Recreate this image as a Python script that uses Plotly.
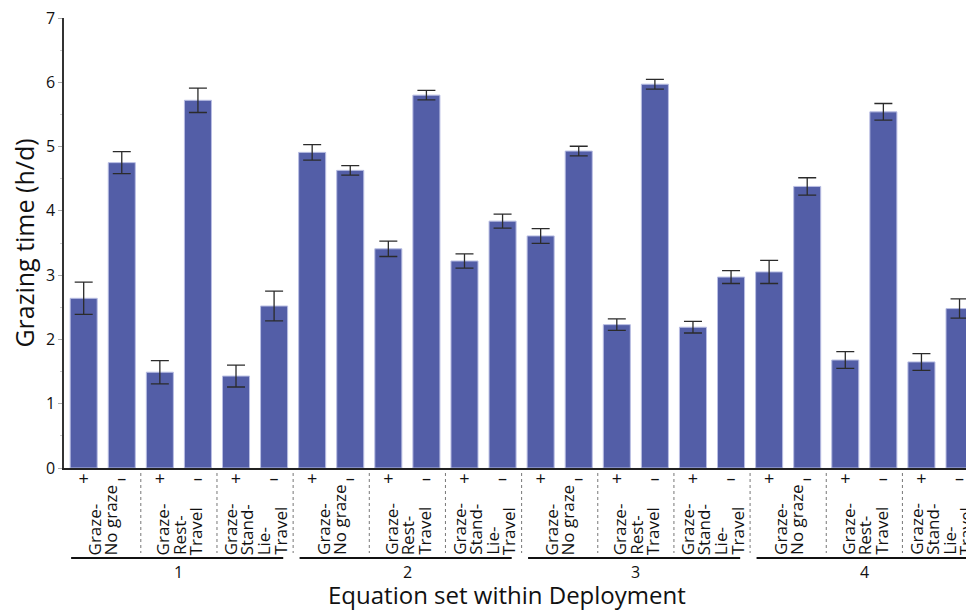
import plotly.graph_objects as go

# Mean grazing time (h/d) and standard error for each equation set, deployments 1-4
deployments = ["1", "2", "3", "4"]
pair_labels = [
    ["Graze-", "No graze"],
    ["Graze-", "Rest-", "Travel"],
    ["Graze-", "Stand-", "Lie-", "Travel"],
]
signs = ["+", "\u2013"]

grazing_time = [
    2.64, 4.75, 1.49, 5.72, 1.43, 2.52,
    4.91, 4.63, 3.41, 5.80, 3.22, 3.84,
    3.61, 4.93, 2.23, 5.97, 2.19, 2.97,
    3.05, 4.38, 1.68, 5.54, 1.65, 2.48,
]
std_error = [
    0.25, 0.17, 0.18, 0.19, 0.17, 0.23,
    0.12, 0.075, 0.12, 0.075, 0.11, 0.11,
    0.115, 0.075, 0.09, 0.075, 0.09, 0.10,
    0.18, 0.135, 0.13, 0.13, 0.13, 0.15,
]

n_bars = len(grazing_time)
positions = list(range(n_bars))
tick_text = [signs[i % 2] for i in positions]

FONT = "Open Sans, Lato, sans-serif"
BAR = "#535ea7"

fig = go.Figure(
    go.Bar(
        x=positions,
        y=grazing_time,
        width=0.71,
        marker=dict(color=BAR, line=dict(color="#b9bee3", width=1)),
        error_y=dict(type="data", array=std_error, visible=True,
                     color="#2b2b2b", thickness=1.3, width=9),
        showlegend=False,
    )
)

# plot area spans 64..966 px horizontally and 18..468 px vertically
PLOT_TOP, PLOT_BOTTOM = 18, 468
PLOT_H = PLOT_BOTTOM - PLOT_TOP


def py(px):
    """convert a pixel row into paper y"""
    return (PLOT_BOTTOM - px) / PLOT_H


shapes = []
annotations = []

# dotted separators between the +/- pairs
for b in range(1, n_bars // 2):
    xb = 2 * b - 0.5
    shapes.append(dict(type="line", xref="x", yref="paper", x0=xb, x1=xb,
                       y0=py(473), y1=py(553),
                       line=dict(color="#777", width=1, dash="dot")))

pairs_per_dep = len(pair_labels)
bars_per_dep = 2 * pairs_per_dep
for d, name in enumerate(deployments):
    start = d * bars_per_dep
    end = start + bars_per_dep - 1
    shapes.append(dict(type="line", xref="x", yref="paper",
                       x0=start - 0.33, x1=end + 0.24, y0=py(558), y1=py(558),
                       line=dict(color="#111", width=2)))
    annotations.append(dict(x=(start + end) / 2, y=py(572), xref="x", yref="paper",
                            text=name, showarrow=False,
                            xanchor="center", yanchor="middle",
                            font=dict(family=FONT, size=16, color="#111")))
    for p, lines in enumerate(pair_labels):
        centre = start + 2 * p + 0.5
        n = len(lines)
        for k, line in enumerate(lines):
            annotations.append(dict(
                x=centre, y=py(557), xref="x", yref="paper",
                xshift=(k - (n - 1) / 2) * 16.5,
                text=line, textangle=-90, showarrow=False,
                xanchor="center", yanchor="bottom",
                font=dict(family=FONT, size=17, color="#111")))

annotations.append(dict(x=(507 - 64) / 902, y=py(594), xref="paper", yref="paper",
                        text="Equation set within Deployment", showarrow=False,
                        xanchor="center", yanchor="middle",
                        font=dict(family=FONT, size=24, color="#111")))

fig.update_layout(
    width=966, height=611,
    margin=dict(l=64, r=0, t=PLOT_TOP, b=611 - PLOT_BOTTOM),
    paper_bgcolor="white", plot_bgcolor="white",
    font=dict(family=FONT, color="#111"),
    bargap=0.29,
    shapes=shapes,
    annotations=annotations,
    xaxis=dict(
        range=[-0.517, 23.17],
        tickvals=positions, ticktext=tick_text,
        tickfont=dict(size=18, color="#111"),
        ticklabelstandoff=-7,
        ticks="", showgrid=False, zeroline=False,
        showline=True, linecolor="#222", linewidth=2,
    ),
    yaxis=dict(
        range=[0, 7], dtick=1,
        tickfont=dict(size=16, color="#111"),
        ticks="outside", ticklen=4, tickcolor="#aaa",
        minor=dict(dtick=0.5, ticks="outside", ticklen=2, tickcolor="#ccc"),
        showgrid=False, zeroline=False,
        showline=True, linecolor="#333", linewidth=1.5,
        title=dict(text="Grazing time (h/d)", font=dict(size=25, color="#111"),
                   standoff=4),
    ),
)

fig.write_html("out.html")
